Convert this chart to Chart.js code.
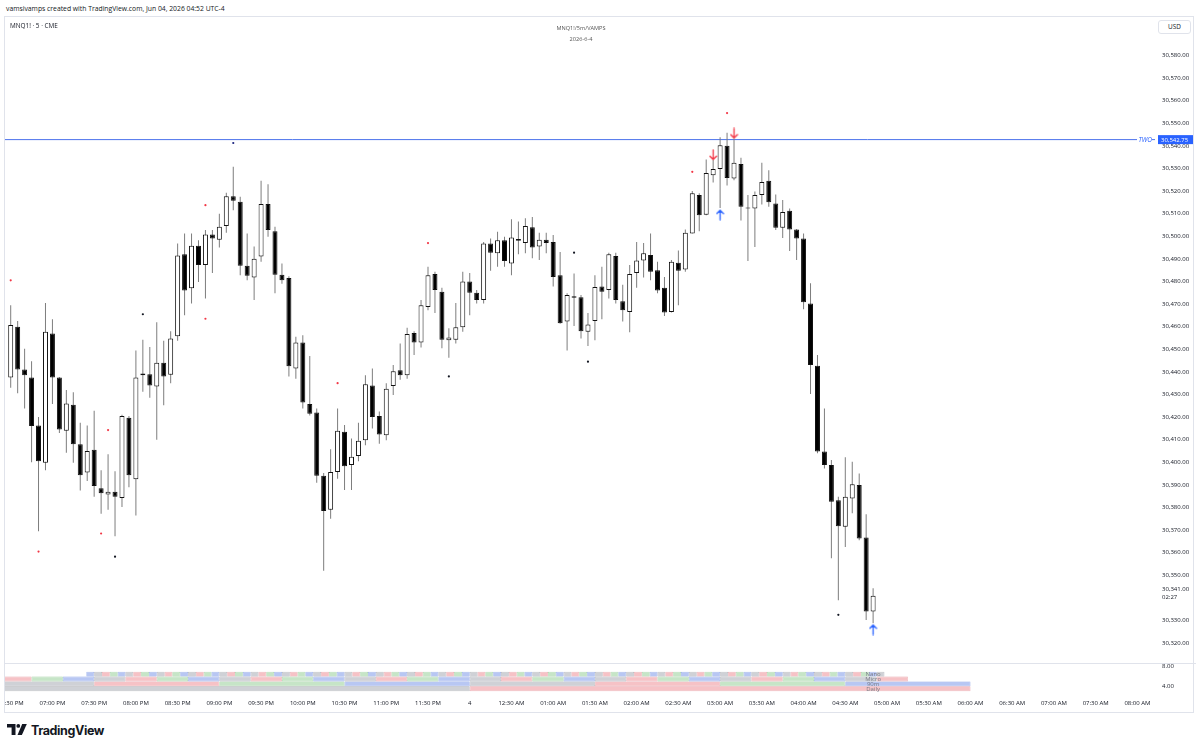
<!DOCTYPE html>
<html>
<head>
<meta charset="utf-8">
<script src="https://cdn.jsdelivr.net/npm/chart.js@4.4.1/dist/chart.umd.min.js"></script>
<style>
  body { margin:0; background:#fff; width:1200px; height:749px; overflow:hidden; position:relative; font-family:"Open Sans", sans-serif; color:#131722; }
  .abs { position:absolute; }
  #frame { left:4px; top:16px; width:1190px; height:697px; border:1px solid #e0e3eb; box-sizing:border-box; }
  #head { left:6px; top:4px; font-size:6.8px; white-space:nowrap; }
  #sym { left:10px; top:21px; font-size:6.4px; }
  #ttl { left:481px; top:23px; width:200px; text-align:center; font-size:5.6px; color:#555; line-height:10.5px; }
  #usd { left:1158px; top:20px; width:33px; height:14px; border:1px solid #e0e3eb; border-radius:3px; box-sizing:border-box; font-size:6.4px; text-align:center; line-height:12px; background:#fff; }
  #main { left:5px; top:17px; width:1191px; height:646px; }
  #lower { left:5px; top:663px; width:1191px; height:49px; border-top:1px solid #e0e3eb; box-sizing:border-box; }
  #logo { left:7px; top:722px; height:16px; display:flex; align-items:center; }
  #logo span { font-family:Inter, sans-serif; font-weight:700; font-size:12.5px; letter-spacing:-0.4px; margin-left:3px; }
</style>
</head>
<body>
<div id="frame" class="abs"></div>
<div id="head" class="abs">vamsivamps created with TradingView.com, Jun 04, 2026 04:52 UTC-4</div>
<div id="main" class="abs"><canvas id="mainChart"></canvas></div>
<div id="lower" class="abs"><canvas id="lowerChart"></canvas></div>
<div id="sym" class="abs">MNQ1! · 5 · CME</div>
<div id="ttl" class="abs">MNQ1!/5m/VAMPS<br>2026-6-4</div>
<div id="usd" class="abs">USD</div>
<div id="logo" class="abs">
  <svg width="21" height="12" viewBox="0 0 21 12"><path d="M0 0h8.5v11H4.6V3.6H0z" fill="#131722"/><circle cx="11.3" cy="1.9" r="1.9" fill="#131722"/><path d="M15.2 0h4.6l-4.9 11h-4.4z" fill="#131722"/></svg>
  <span>TradingView</span>
</div>
<script>
// 5-minute bars, MNQ1!, 06:30 PM .. 04:50 AM (bar index 0..124)
const open = [30437.5,30460,30441,30437.5,30416.25,30399.75,30457,30437.5,30414,30425.5,
  30408,30395.5,30405.5,30388.5,30385.75,30387,30384.25,30419.75,30392.5,30439.25,
  30439,30433.5,30444,30438.75,30455.75,30492,30477,30495.75,30487.25,30500.75,
  30498.5,30504.5,30517.75,30515.25,30487,30481.75,30491,30514.25,30502.25,30483,
  30481.5,30441.5,30453,30425.75,30422,30394,30379,30395.75,30413.5,30398.75,
  30402.75,30409.75,30434,30420.5,30412,30433.75,30440.75,30438.5,30457.25,30453,
  30468.75,30483.25,30475.5,30454,30454.25,30459.75,30480,30475,30471.75,30496.75,
  30492.5,30498.25,30488,30498.75,30497,30504,30495.5,30498.5,30497.5,30482.75,
  30462.25,30473.5,30473,30457.75,30462.5,30477.75,30476.25,30491.25,30471.25,30466.5,
  30483.75,30489.25,30491.75,30485,30477.25,30466.5,30488.25,30485.25,30501.25,30518.25,
  30509.5,30527,30529.75,30540,30525.5,30532,30512.75,30512.25,30518.25,30524.5,
  30514.5,30503.75,30511.25,30503,30499,30470.25,30442.75,30404.75,30398.75,30383.25,
  30371.5,30384,30390,30366.75,30334];
const high = [30469.5,30462.5,30450.25,30444.75,30420,30470.5,30463.25,30437.75,30432,30431,
  30417.5,30416.25,30422.75,30396.5,30403.5,30396,30421,30420.5,30449.5,30454.25,
  30451,30462,30453.75,30458,30496.75,30501.25,30501.25,30498.25,30502.75,30502.75,
  30510,30519.25,30530.75,30517.5,30501.25,30495.5,30524.5,30523,30504.25,30488,
  30482.25,30455.5,30456.25,30447,30423.75,30395.25,30405.75,30423.75,30416.5,30410.5,
  30417.5,30438.5,30441.5,30422.5,30435,30443,30452.5,30459.5,30458,30471.75,
  30486.5,30484.25,30477.25,30459.25,30470.5,30484.25,30483.75,30476.25,30497.5,30499,
  30502,30499.75,30507.5,30506.5,30508,30508.5,30501.5,30501.5,30500.5,30493,
  30474.75,30483.5,30474,30466,30482.75,30486.5,30492.75,30492.75,30478.5,30487.25,
  30497.5,30497,30501.25,30488.75,30482,30489.5,30493.75,30503,30520,30519,
  30534,30533.75,30543.75,30545.75,30543.25,30534.75,30518.25,30519.75,30532.5,30529.25,
  30518.5,30516,30512.25,30503.25,30501.25,30479.25,30447.5,30423.75,30401,30384.75,
  30402.25,30400.25,30395,30377,30344.25];
const low = [30433,30430.5,30423.75,30400,30369.5,30396.5,30425.75,30413,30404.25,30399.75,
  30387.5,30391.75,30384.75,30377.25,30379,30367.25,30380.25,30389,30376.5,30431.25,
  30428.5,30410,30425.25,30435,30453.75,30465,30470.25,30479.75,30472.5,30483.75,
  30495,30501.5,30511.5,30482.75,30480.5,30471.75,30488.75,30499.75,30474.75,30479,
  30438,30437,30423.75,30420.75,30391,30352,30375,30392.75,30387.75,30387.75,
  30400.5,30407.5,30415,30408.25,30409.75,30429.75,30436.5,30437,30447.5,30450.75,
  30467.25,30466,30450.5,30446.25,30452.5,30457.75,30465,30470.25,30470.25,30484.75,
  30486.5,30486.5,30482.75,30492,30492.5,30490.25,30489.5,30492.5,30477.75,30461.25,
  30449.5,30460.25,30454.75,30451.5,30454,30463.25,30472.5,30470.25,30462.25,30457.5,
  30477.25,30481.75,30480.5,30474.75,30464.75,30466.25,30469.5,30484.25,30501.25,30502.25,
  30509.25,30523.75,30512.5,30522.5,30524.75,30507,30489,30495.25,30514,30513,
  30502.75,30499.25,30493.5,30489.5,30467.75,30430.25,30404,30397.25,30357.5,30339,
  30362.5,30377.5,30365.5,30330.25,30328.75];
const close = [30460.75,30441,30438.5,30416,30400.5,30457.75,30437.5,30414.5,30426,30408,
  30394.25,30405,30389.5,30386.25,30387,30384.75,30420.5,30394.25,30437.5,30438.5,
  30434,30444,30438,30454.75,30491.5,30476,30495.75,30487.25,30500.75,30499,
  30504.25,30517.75,30515.75,30487,30482.5,30490,30514.25,30502.75,30483,30480.5,
  30442.5,30453,30426.5,30421.5,30394,30378.5,30395.75,30414,30398.25,30402.5,
  30409.5,30434.5,30420,30412.25,30432.5,30440.25,30438.5,30456.75,30453,30469.5,
  30482.75,30476.25,30454.25,30455.25,30459.75,30480,30475,30471.75,30496.75,30492.75,
  30498.25,30489,30499.5,30498,30504.5,30495,30498.5,30497,30482,30461.5,
  30474,30472.75,30458,30461,30477.5,30475.5,30492,30471.75,30467.25,30483.25,
  30489.25,30492.5,30484.25,30476,30466.25,30488.75,30484.75,30501.5,30519,30509.25,
  30528,30529.75,30540.25,30525.75,30532.5,30513,30512.25,30518.25,30524,30515,
  30503.75,30510.75,30503,30499,30470.75,30443,30404.75,30398.75,30382.5,30371.75,
  30384.75,30390.25,30366.25,30334,30341];

// indicator marks (bar index, price)
const redDotIdx = [0,4,13,14,28,28,47,60,98,103];
const redDotVal = [30480.5,30360.5,30368.5,30414.25,30513.75,30463.5,30435,30497,30528.5,30554.5];
const blackDotIdx = [15,19,63,81,83,119];
const blackDotVal = [30358.25,30465.5,30438,30492.75,30444.5,30332.5];
const navyDotIdx = [32];
const navyDotVal = [30541.25];
const downArrowIdx = [101,104];
const downArrowVal = [30536,30545.5];
const upArrowIdx = [102,124];
const upArrowVal = [30509.5,30326];
const twoLevel = 30542.75;
const lastPrice = 30341;
const countdown = '02:27';

// time axis: one label every 6 bars
const timeTickIdx = [0,6,12,18,24,30,36,42,48,54,60,66,72,78,84,90,96,102,108,114,120,126,132,138,144,150,156,162];
const timeLabels = ['06:30 PM','07:00 PM','07:30 PM','08:00 PM','08:30 PM','09:00 PM','09:30 PM','10:00 PM','10:30 PM',
  '11:00 PM','11:30 PM','4','12:30 AM','01:00 AM','01:30 AM','02:00 AM','02:30 AM','03:00 AM','03:30 AM',
  '04:00 AM','04:30 AM','05:00 AM','05:30 AM','06:00 AM','06:30 AM','07:00 AM','07:30 AM','08:00 AM'];

// quarterly cycle boxes (bar units from 06:30 PM)
const quarterColors = ['#cfd1d6','#f6c2c6','#c6e5c7','#b8c7f3'];
const quarterBorders = ['#a9abb2','#e8a3aa','#9fcfa1','#8fa6e6'];
const dailyEdges = [-6,66,138];
const dailyFirstQ = 0;
const ninetyEdges = [-6,12,30,48,66,84,102,120,138];
const ninetyFirstQ = 0;
const microCycle = {start:-6, step:4.5, end:129, firstQ:0};
const nanoCycle = {start:10.875, step:1.125, end:125.625, firstQ:3};
const rowNames = ['Nano','Micro','90m','Daily'];
const rowLevels = [6.34,5.37,4.39,3.41];

const xMin = -0.82, xMax = 164.53;
const fmt = v => v.toLocaleString('en-US',{minimumFractionDigits:2, maximumFractionDigits:2});

function arrowImg(color, up) {
  const c = document.createElement('canvas');
  c.width = 9; c.height = 12;
  const g = c.getContext('2d');
  g.strokeStyle = color; g.lineWidth = 1.3; g.lineCap = 'round';
  g.beginPath();
  if (up) { g.moveTo(4.5,11); g.lineTo(4.5,1.5); g.moveTo(1.2,4.8); g.lineTo(4.5,1.5); g.lineTo(7.8,4.8); }
  else { g.moveTo(4.5,1); g.lineTo(4.5,10.5); g.moveTo(1.2,7.2); g.lineTo(4.5,10.5); g.lineTo(7.8,7.2); }
  g.stroke();
  return c;
}
const pts = (idx, val) => idx.map((x,i) => ({x, y:val[i]}));

const overlay = {
  id: 'overlay',
  afterDraw(c) {
    const g = c.ctx, y = c.scales.y, a = c.chartArea;
    const py = y.getPixelForValue(twoLevel);
    g.save();
    g.font = 'italic 6.5px "Open Sans"';
    g.textBaseline = 'middle';
    g.fillStyle = '#fff';
    g.fillRect(a.right - 18, py - 4, 15, 8);
    g.fillStyle = '#2962ff';
    g.textAlign = 'right';
    g.fillText('TWO', a.right - 3, py + 0.5);
    g.fillRect(a.right + 3, py - 4.5, 35, 9);
    g.font = '6px "Open Sans"';
    g.fillStyle = '#fff';
    g.textAlign = 'left';
    g.fillText(fmt(twoLevel), a.right + 6, py + 0.5);
    const lp = y.getPixelForValue(lastPrice);
    g.fillStyle = '#fff';
    g.fillRect(a.right + 3, lp - 12, 35, 19);
    g.fillStyle = '#131722';
    g.fillText(fmt(lastPrice), a.right + 7, lp - 6);
    g.fillText(countdown, a.right + 7, lp + 2);
    g.restore();
  }
};

new Chart(document.getElementById('mainChart'), {
  type: 'bar',
  data: {
    datasets: [
      { type:'scatter', data: pts(downArrowIdx, downArrowVal), pointStyle: arrowImg('#f23645', false), pointRadius: 5 },
      { type:'scatter', data: pts(upArrowIdx, upArrowVal), pointStyle: arrowImg('#2962ff', true), pointRadius: 5 },
      { type:'scatter', data: pts(redDotIdx, redDotVal), pointRadius: 1.1, backgroundColor:'#f23645', borderWidth:0 },
      { type:'scatter', data: pts(blackDotIdx, blackDotVal), pointRadius: 1.1, backgroundColor:'#131722', borderWidth:0 },
      { type:'scatter', data: pts(navyDotIdx, navyDotVal), pointRadius: 1.1, backgroundColor:'#1a237e', borderWidth:0 },
      { data: open.map((o,i) => ({x:i, y:[o, close[i]]})),
        backgroundColor: open.map((o,i) => close[i] >= o ? '#ffffff' : '#000000'),
        borderColor: '#111', borderWidth: 1, maxBarThickness: 5 },
      { data: low.map((l,i) => ({x:i, y:[l, high[i]]})),
        backgroundColor: '#7d7d7d', borderWidth: 0, maxBarThickness: 1 },
      { type:'line', data: [{x:xMin, y:twoLevel},{x:xMax, y:twoLevel}], borderColor:'#4b72ec', borderWidth:1, pointRadius:0 }
    ]
  },
  options: {
    responsive: true,
    maintainAspectRatio: false,
    animation: false,
    layout: { padding: 0, autoPadding: false },
    datasets: { bar: { grouped:false, barPercentage:1, categoryPercentage:1, borderSkipped:false, inflateAmount:0 } },
    plugins: { legend:{display:false}, tooltip:{enabled:false} },
    scales: {
      x: { type:'linear', display:false, offset:false, min:xMin, max:xMax },
      y: {
        type:'linear', position:'right', min:30311.2, max:30597,
        grid:{display:false, drawTicks:false}, border:{display:false},
        ticks:{ stepSize:10, includeBounds:false, padding:7, color:'#131722', font:{family:'Open Sans', size:6}, callback: v => fmt(v) },
        afterBuildTicks(s) { s.ticks = s.ticks.filter(t => t.value <= 30580 && t.value !== 30340); },
        afterFit(s) { s.width = 41; s.paddingTop = 0; s.paddingBottom = 0; }
      }
    }
  },
  plugins: [overlay]
});

// quarterly cycle rows
function boxesFromEdges(edges, firstQ) {
  const out = [];
  for (let k = 0; k < edges.length - 1; k++) out.push({s:edges[k], e:edges[k+1], q:(firstQ + k) % 4});
  return out;
}
function boxesFromCycle(c) {
  const out = [];
  let q = c.firstQ;
  for (let s = c.start; s < c.end - 1e-6; s += c.step) { out.push({s, e:Math.min(s + c.step, c.end), q}); q = (q + 1) % 4; }
  return out;
}
const rows = [boxesFromCycle(nanoCycle), boxesFromCycle(microCycle), boxesFromEdges(ninetyEdges, ninetyFirstQ), boxesFromEdges(dailyEdges, dailyFirstQ)];

const rowLabels = {
  id: 'rowLabels',
  afterDatasetsDraw(c) {
    const g = c.ctx, x = c.scales.x, y = c.scales.y;
    g.save();
    g.font = '6px "Open Sans"';
    g.fillStyle = '#787b86';
    g.textAlign = 'center';
    g.textBaseline = 'middle';
    rowNames.forEach((n,i) => g.fillText(n, x.getPixelForValue(124), y.getPixelForValue(rowLevels[i]) + 0.5));
    g.restore();
  }
};

new Chart(document.getElementById('lowerChart'), {
  type: 'bar',
  data: {
    datasets: rows.map((r,ri) => ({
      data: r.map(b => ({y: rowLevels[ri], x:[b.s, b.e]})),
      backgroundColor: r.map(b => quarterColors[b.q]),
      borderColor: r.map(b => quarterBorders[b.q]),
      borderWidth: 0.6
    }))
  },
  options: {
    indexAxis: 'y',
    responsive: true,
    maintainAspectRatio: false,
    animation: false,
    layout: { padding: 0, autoPadding: false },
    datasets: { bar: { grouped:false, barPercentage:1, categoryPercentage:1, maxBarThickness:5, borderSkipped:false, inflateAmount:0 } },
    plugins: { legend:{display:false}, tooltip:{enabled:false} },
    scales: {
      x: {
        type:'linear', min:xMin, max:xMax, offset:false,
        grid:{display:false, drawTicks:false}, border:{display:false},
        afterBuildTicks(s) { s.ticks = timeTickIdx.map(v => ({value:v})); },
        ticks:{ padding:3, color:'#131722', maxRotation:0, autoSkip:false, font:{family:'Open Sans', size:6}, callback:(v,i) => timeLabels[i] },
        afterFit(s) { s.height = 15; s.paddingLeft = 0; s.paddingRight = 0; }
      },
      y: {
        type:'linear', position:'right', min:1.76, max:8.39, offset:false,
        grid:{display:false, drawTicks:false}, border:{display:false},
        afterBuildTicks(s) { s.ticks = [{value:4},{value:8}]; },
        ticks:{ padding:7, color:'#131722', font:{family:'Open Sans', size:6}, callback: v => v.toFixed(2) },
        afterFit(s) { s.width = 41; s.paddingTop = 0; s.paddingBottom = 0; }
      }
    }
  },
  plugins: [rowLabels]
});
</script>
</body>
</html>
